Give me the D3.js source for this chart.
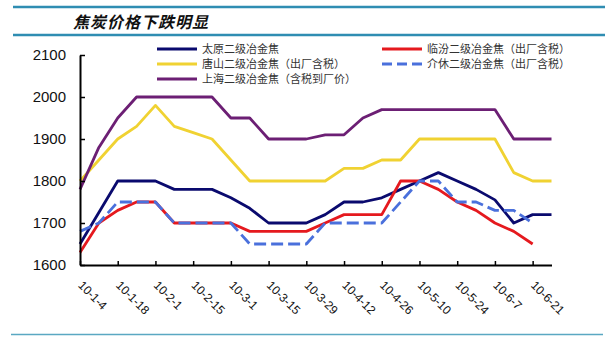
<!DOCTYPE html>
<html>
<head>
<meta charset="utf-8">
<script src="https://cdn.jsdelivr.net/npm/d3@7"></script>
<style>
  html, body { margin: 0; padding: 0; background: #ffffff; }
  svg { display: block; }
</style>
</head>
<body>
<svg id="chart" width="615" height="350"></svg>
<script>
// Weekly coke prices (yuan/ton), 2010-01-04 through 2010-06-28
const tickLabels = ["10-1-4", "10-1-18", "10-2-1", "10-2-15", "10-3-1", "10-3-15", "10-3-29",
                    "10-4-12", "10-4-26", "10-5-10", "10-5-24", "10-6-7", "10-6-21"];
const taiyuan  = [1650, 1725, 1800, 1800, 1800, 1780, 1780, 1780, 1760, 1735, 1700, 1700, 1700,
                  1720, 1750, 1750, 1760, 1780, 1800, 1820, 1800, 1780, 1755, 1700, 1720, 1720];
const linfen   = [1630, 1700, 1730, 1750, 1750, 1700, 1700, 1700, 1700, 1680, 1680, 1680, 1680,
                  1700, 1720, 1720, 1720, 1800, 1800, 1780, 1750, 1730, 1700, 1680, 1650, null];
const tangshan = [1800, 1850, 1900, 1930, 1980, 1930, 1915, 1900, 1850, 1800, 1800, 1800, 1800,
                  1800, 1830, 1830, 1850, 1850, 1900, 1900, 1900, 1900, 1900, 1820, 1800, 1800];
const jiexiu   = [1680, 1700, 1750, 1750, 1750, 1700, 1700, 1700, 1700, 1650, 1650, 1650, 1650,
                  1700, 1700, 1700, 1700, 1750, 1800, 1800, 1750, 1750, 1730, 1730, 1700, null];
const shanghai = [1780, 1880, 1950, 2000, 2000, 2000, 2000, 2000, 1950, 1950, 1900, 1900, 1900,
                  1910, 1910, 1950, 1970, 1970, 1970, 1970, 1970, 1970, 1970, 1900, 1900, 1900];
const yTicks = [1600, 1700, 1800, 1900, 2000, 2100];

const seriesNames = ["太原二级冶金焦", "临汾二级冶金焦（出厂含税）", "唐山二级冶金焦（出厂含税）",
                     "介休二级冶金焦（出厂含税）", "上海二级冶金焦（含税到厂价）"];

const series = [
  { name: seriesNames[0], values: taiyuan,  color: "#0a0a6e", dash: null },
  { name: seriesNames[1], values: linfen,   color: "#e5191e", dash: null },
  { name: seriesNames[2], values: tangshan, color: "#f0d232", dash: null },
  { name: seriesNames[3], values: jiexiu,   color: "#4a70dc", dash: "12,5" },
  { name: seriesNames[4], values: shanghai, color: "#6c1f74", dash: null }
];

const svg = d3.select("#chart");
const cjk = "'Noto Sans CJK SC', 'Noto Sans', sans-serif";
const latin = "'Liberation Sans', Arial, sans-serif";

// Header band
svg.append("line").attr("x1", 13).attr("x2", 605).attr("y1", 7).attr("y2", 7)
  .attr("stroke", "#2f8db2").attr("stroke-width", 2.5);
svg.append("line").attr("x1", 13).attr("x2", 605).attr("y1", 35).attr("y2", 35)
  .attr("stroke", "#2f8db2").attr("stroke-width", 2.5);
svg.append("text").attr("x", 73).attr("y", 28)
  .attr("font-family", cjk).attr("font-size", 16).attr("font-style", "italic")
  .attr("font-weight", "bold").attr("letter-spacing", 1).attr("fill", "#111")
  .text("焦炭价格下跌明显");
// Footer rule
svg.append("line").attr("x1", 11).attr("x2", 603).attr("y1", 334.5).attr("y2", 334.5)
  .attr("stroke", "#5aa8c2").attr("stroke-width", 1.5);

// Scales
const n = taiyuan.length;
const x = d3.scaleLinear().domain([0, n - 1]).range([80, 551.5]);
const y = d3.scaleLinear().domain([1600, 2100]).range([265, 55]);

// Series lines
const line = d3.line()
  .defined(d => d != null)
  .x((d, i) => x(i))
  .y(d => y(d));

const plot = svg.append("g");
series.forEach(s => {
  plot.append("path")
    .datum(s.values)
    .attr("fill", "none")
    .attr("stroke", s.color)
    .attr("stroke-width", 2.8)
    .attr("stroke-linejoin", "round")
    .attr("stroke-dasharray", s.dash)
    .attr("d", line);
});

// Y axis with inward ticks
const yAxis = svg.append("g").attr("transform", "translate(80,0)")
  .call(d3.axisLeft(y).tickValues(yTicks).tickSize(-5).tickSizeOuter(0).tickPadding(14)
    .tickFormat(d3.format("d")));
yAxis.select(".domain").attr("stroke", "#000").attr("stroke-width", 2);
yAxis.selectAll(".tick line").attr("stroke", "#000").attr("stroke-width", 1.5);
yAxis.selectAll(".tick text").attr("font-family", latin).attr("font-size", 15).attr("fill", "#111");

// X axis: a tick every two weeks, labels slanted
const xTickIdx = tickLabels.map((t, k) => k * 2);
const xAxis = svg.append("g").attr("transform", "translate(0,265)")
  .call(d3.axisBottom(x).tickValues(xTickIdx).tickSize(-4).tickSizeOuter(0)
    .tickFormat((d, k) => tickLabels[k]));
xAxis.select(".domain").attr("stroke", "#000").attr("stroke-width", 2);
xAxis.selectAll(".tick line").attr("stroke", "#000").attr("stroke-width", 1.5);
xAxis.selectAll(".tick text")
  .attr("font-family", latin).attr("font-size", 12).attr("fill", "#111")
  .attr("x", 0).attr("y", 0).attr("dy", 0)
  .attr("text-anchor", "start")
  .attr("transform", "translate(-3,21) rotate(45)");

// Legend
const legendPos = [
  { lx: 157, ly: 49 }, { lx: 382, ly: 49 },
  { lx: 157, ly: 64 }, { lx: 382, ly: 64 },
  { lx: 157, ly: 79 }
];
series.forEach((s, i) => {
  const p = legendPos[i];
  const g = svg.append("g").attr("transform", `translate(${p.lx},${p.ly})`);
  g.append("line").attr("x1", 0).attr("x2", 40).attr("y1", 0).attr("y2", 0)
    .attr("stroke", s.color).attr("stroke-width", 2.8)
    .attr("stroke-dasharray", s.dash ? "10,5" : null);
  g.append("text").attr("x", 45).attr("y", 4)
    .attr("font-family", cjk).attr("font-size", 11).attr("fill", "#333")
    .text(s.name);
});
</script>
</body>
</html>
